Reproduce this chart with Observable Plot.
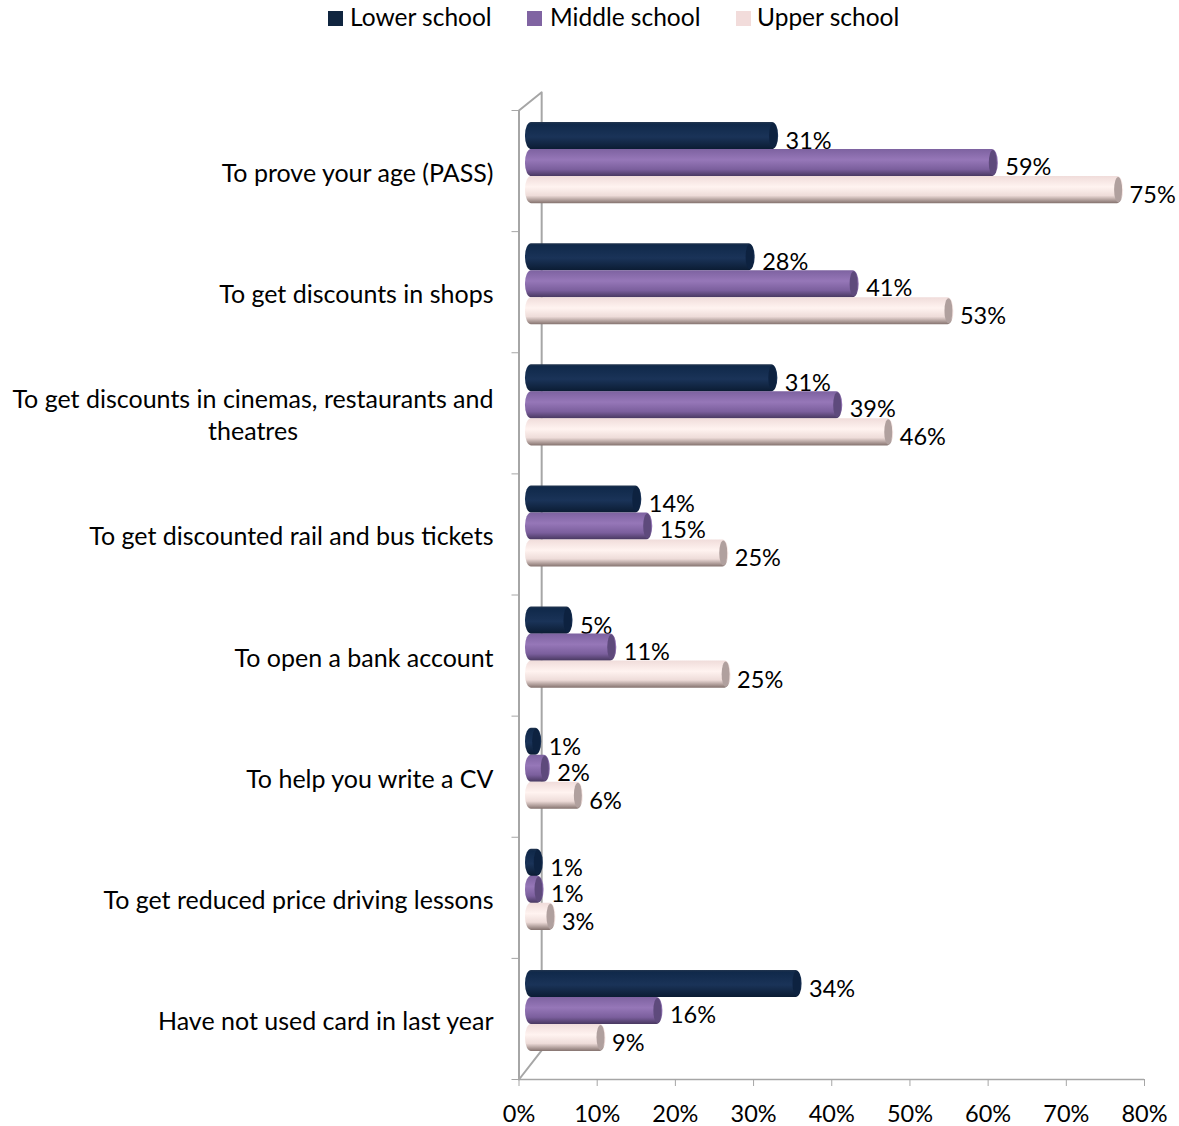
<!DOCTYPE html>
<html>
<head>
<meta charset="utf-8">
<script src="https://cdn.jsdelivr.net/npm/d3@7"></script>
<script src="https://cdn.jsdelivr.net/npm/@observablehq/plot@0.6"></script>
<style>
html,body{margin:0;padding:0;background:#fff;width:1179px;overflow:hidden}
#legend{position:relative;height:36px;font:24.5px Lato,sans-serif;color:#000}
#legend span{position:absolute;top:3px;white-space:nowrap;line-height:28px}
#legend i{position:absolute;top:11px;width:15px;height:15px}
svg{display:block}
</style>
</head>
<body>
<div id="legend"></div>
<div id="chart"></div>
<script>
const categories = ["To prove your age (PASS)","To get discounts in shops","To get discounts in cinemas, restaurants and","To get discounted rail and bus tickets","To open a bank account","To help you write a CV","To get reduced price driving lessons","Have not used card in last year"];
const wrappedLine = ["theatres"];
const seriesNames = ["Lower school","Middle school","Upper school"];
const lowerValues = [30.9,27.9,30.8,13.4,4.6,0.6,0.8,33.9];
const middleValues = [59,41.2,39.1,14.8,10.2,1.7,0.9,16.1];
const upperValues = [74.9,53.2,45.5,24.4,24.7,5.8,2.3,8.7];
const lowerLabels = ["31%","28%","31%","14%","5%","1%","1%","34%"];
const middleLabels = ["59%","41%","39%","15%","11%","2%","1%","16%"];
const upperLabels = ["75%","53%","46%","25%","25%","6%","3%","9%"];
const xTicks = [0,10,20,30,40,50,60,70,80];
const wallLine = [[0,0],[2.9,-0.15],[2.9,7.76],[0,8]];
const swatchColors = ["#10253f","#8064a2","#f2dcdb"];
const capColors = ["#0d2240","#5e4a7c","#b0a09e"];
const gradientStops = [
  [["0","#24364f"],["0.08","#10294a"],["0.55","#1a3358"],["1","#0b1c33"]],
  [["0","#7d62a0"],["0.4","#9677b8"],["0.75","#7b5f9d"],["1","#483860"]],
  [["0","#f0dcda"],["0.4","#fff3f0"],["0.72","#eedcd9"],["1","#85736f"]]
];
const barExtra = [18,18,19];

const legendEl = document.getElementById("legend");
const legendPos = [[328,350],[527,550],[736,757]];
seriesNames.forEach((n,i)=>{
  const sw=document.createElement("i");sw.style.left=legendPos[i][0]+"px";sw.style.background=swatchColors[i];
  const t=document.createElement("span");t.style.left=legendPos[i][1]+"px";t.textContent=n;
  legendEl.append(sw,t);
});

const gridValues=[lowerValues,middleValues,upperValues], gridLabels=[lowerLabels,middleLabels,upperLabels];
const rows = seriesNames.map((s,si)=>categories.map((c,i)=>({category:c,row:i,value:gridValues[si][i],label:gridLabels[si][i]})));

function defs(){
  const d=d3.create("svg:defs");
  gradientStops.forEach((st,i)=>{
    const g=d.append("linearGradient").attr("id","cyl"+i).attr("x1",0).attr("x2",0).attr("y1",0).attr("y2",1);
    st.forEach(([o,c])=>g.append("stop").attr("offset",o).attr("stop-color",c));
  });
  return d.node();
}
const axisGray="#a6a6a6";
const font="Lato,sans-serif";
const marks=[
  defs,
  Plot.line(wallLine,{x:d=>d[0],y:d=>d[1],stroke:axisGray,strokeWidth:2}),
  Plot.ruleX([0],{y1:0,y2:8,stroke:axisGray,strokeWidth:2}),
  Plot.ruleY([8],{x1:0,x2:80,stroke:axisGray,strokeWidth:1.5}),
  Plot.axisX({anchor:"bottom",ticks:xTicks,tickSize:7,tickPadding:19,stroke:axisGray,fontSize:23.5,fill:"#000",tickFormat:d=>d+"%",label:null,fontFamily:font}),
  Plot.axisY({anchor:"left",ticks:d3.range(9),tickSize:7,stroke:axisGray,tickFormat:()=>"",label:null}),
  Plot.text(categories.filter(d=>d!==categories[2]),{x:()=>0,y:d=>categories.indexOf(d)+0.5,text:d=>d,textAnchor:"end",dx:-25.5,dy:3,fontSize:25,fontFamily:font,fill:"#000"}),
  Plot.text([categories[2]],{x:()=>0,y:()=>2.5,text:d=>d,textAnchor:"end",dx:-25.5,dy:-13.5,fontSize:25,fontFamily:font,fill:"#000"}),
  Plot.text(wrappedLine,{x:()=>0,y:()=>2.5,text:d=>d,textAnchor:"middle",dx:-266,dy:18.5,fontSize:25,fontFamily:font,fill:"#000"})
];
const labelDy=[-29.5,-3.5,24.5];
rows.forEach((data,s)=>{
  marks.push(Plot.rectX(data,{x1:()=>0,x2:"value",y1:"row",y2:d=>d.row+1,insetTop:12+27*s,insetBottom:82-27*s,insetLeft:6.5,insetRight:-barExtra[s],rx:6,ry:13,fill:`url(#cyl${s})`}));
  marks.push(Plot.rectX(data,{x1:"value",x2:"value",y1:"row",y2:d=>d.row+1,insetTop:13+27*s,insetBottom:83-27*s,insetLeft:barExtra[s]-9,insetRight:1-barExtra[s],rx:4,ry:12.5,fill:capColors[s]}));
  marks.push(Plot.text(data,{x:"value",y:d=>d.row+0.5,text:"label",textAnchor:"start",dx:25,dy:labelDy[s],fontSize:23.5,fontFamily:font,fill:"#000"}));
});
const chart=Plot.plot({
  width:1179,height:1090,marginLeft:518.5,marginRight:35,marginTop:74,marginBottom:47,
  x:{domain:[0,80]},
  y:{domain:[0,8],reverse:true},
  style:{background:"#fff",overflow:"visible"},
  marks
});
document.getElementById("chart").append(chart);
</script>
</body>
</html>
